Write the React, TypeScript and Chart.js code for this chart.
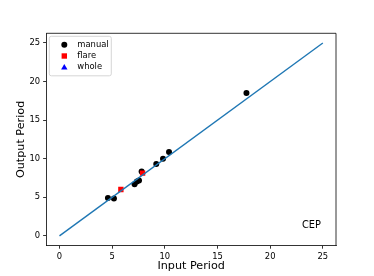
import React, { useEffect, useRef } from "react";
import { Chart, registerables } from "chart.js";

Chart.register(...registerables);

// Data
const manualX = [4.6, 5.17, 7.13, 7.35, 7.55, 7.8, 9.19, 9.83, 10.4, 17.75];
const manualY = [4.89, 4.84, 6.7, 7.04, 7.17, 8.35, 9.3, 9.99, 10.86, 18.5];
const flareX = [5.83, 7.89];
const flareY = [6.0, 8.13];
const wholeX: number[] = [];
const wholeY: number[] = [];
const lineX = [0, 25];
const lineY = [0, 25];
const tickValues = [0, 5, 10, 15, 20, 25];
const xLabel = "Input Period";
const yLabel = "Output Period";
const cornerText = "CEP";

const toPts = (xs: number[], ys: number[]) => xs.map((x, i) => ({ x, y: ys[i] }));

const FONT = "'DejaVu Sans', sans-serif";

const framePlugin = {
  id: "frame",
  afterDatasetsDraw(chart: any) {
    const { ctx, chartArea: a } = chart;
    ctx.save();
    // top and right spines
    ctx.strokeStyle = "#000";
    ctx.lineWidth = 0.8;
    ctx.beginPath();
    ctx.moveTo(a.left, a.top);
    ctx.lineTo(a.right, a.top);
    ctx.lineTo(a.right, a.bottom);
    ctx.stroke();

    // CEP text
    ctx.fillStyle = "#000";
    ctx.font = `9.8px ${FONT}`;
    ctx.textAlign = "right";
    ctx.textBaseline = "middle";
    ctx.fillText(cornerText, a.left + (a.right - a.left) * 0.948, a.bottom - 20.5);

    // legend
    const bx = a.left + 3, by = a.top + 3, bw = 62, bh = 39.5;
    ctx.fillStyle = "rgba(255,255,255,0.8)";
    ctx.strokeStyle = "#cccccc";
    ctx.lineWidth = 0.8;
    ctx.beginPath();
    const r = 2;
    ctx.moveTo(bx + r, by);
    ctx.lineTo(bx + bw - r, by);
    ctx.arcTo(bx + bw, by, bx + bw, by + r, r);
    ctx.lineTo(bx + bw, by + bh - r);
    ctx.arcTo(bx + bw, by + bh, bx + bw - r, by + bh, r);
    ctx.lineTo(bx + r, by + bh);
    ctx.arcTo(bx, by + bh, bx, by + bh - r, r);
    ctx.lineTo(bx, by + r);
    ctx.arcTo(bx, by, bx + r, by, r);
    ctx.closePath();
    ctx.fill();
    ctx.stroke();

    const items = chart.data.datasets.filter((d: any) => d.type !== "line");
    const mx = bx + 15;
    items.forEach((d: any, i: number) => {
      const y = by + 8.5 + i * 11.2;
      ctx.fillStyle = d.backgroundColor;
      ctx.beginPath();
      if (d.pointStyle === "circle") {
        ctx.arc(mx, y, 3, 0, Math.PI * 2);
      } else if (d.pointStyle === "rect") {
        ctx.rect(mx - 2.7, y - 2.7, 5.4, 5.4);
      } else {
        ctx.moveTo(mx, y - 3.3);
        ctx.lineTo(mx + 3.2, y + 2.4);
        ctx.lineTo(mx - 3.2, y + 2.4);
        ctx.closePath();
      }
      ctx.fill();
      ctx.fillStyle = "#000";
      ctx.font = `8.4px ${FONT}`;
      ctx.textAlign = "left";
      ctx.textBaseline = "middle";
      ctx.fillText(d.label, bx + 28, y);
    });
    ctx.restore();
  },
};

export default function App() {
  const ref = useRef<HTMLCanvasElement | null>(null);
  useEffect(() => {
    if (!ref.current) return;
    const fixTicks = (scale: any) => {
      scale.ticks = tickValues.map((v) => ({ value: v }));
    };
    const axisCommon = {
      type: "linear" as const,
      min: -1.25,
      max: 26.25,
      afterBuildTicks: fixTicks,
      grid: {
        drawOnChartArea: false,
        drawTicks: true,
        tickLength: 3.2,
        color: "#000",
        lineWidth: 0.8,
      },
      border: { display: true, color: "#000", width: 0.8 },
      ticks: {
        color: "#000",
        font: { family: FONT, size: 8.4 },
        padding: 3,
        maxRotation: 0,
        autoSkip: false,
      },
    };
    const chart = new Chart(ref.current, {
      type: "scatter",
      data: {
        datasets: [
          {
            type: "line",
            label: "y=x",
            data: toPts(lineX, lineY),
            borderColor: "#1f77b4",
            borderWidth: 1.4,
            pointRadius: 0,
            fill: false,
            order: 0,
          } as any,
          {
            label: "manual",
            data: toPts(manualX, manualY),
            backgroundColor: "#000000",
            borderWidth: 0,
            pointStyle: "circle",
            pointRadius: 3,
            order: 3,
          },
          {
            label: "flare",
            data: toPts(flareX, flareY),
            backgroundColor: "#ff0000",
            borderWidth: 0,
            pointStyle: "rect",
            pointRadius: 3.8,
            order: 2,
          },
          {
            label: "whole",
            data: toPts(wholeX, wholeY),
            backgroundColor: "#0000ff",
            borderWidth: 0,
            pointStyle: "triangle",
            pointRadius: 3.5,
            order: 1,
          },
        ],
      },
      options: {
        animation: false,
        responsive: false,
        maintainAspectRatio: false,
        layout: { padding: { left: 0, top: 33.3, right: 38, bottom: 0 } },
        plugins: { legend: { display: false }, tooltip: { enabled: false } },
        scales: {
          x: {
            ...axisCommon,
            position: "bottom",
            afterFit: (s: any) => {
              s.height = 276 - 245.5;
            },
            title: {
              display: true,
              text: xLabel,
              color: "#000",
              font: { family: FONT, size: 11.2 },
              padding: { top: 0, bottom: 3.3 },
            },
          },
          y: {
            ...axisCommon,
            position: "left",
            afterFit: (s: any) => {
              s.width = 46.3;
            },
            title: {
              display: true,
              text: yLabel,
              color: "#000",
              font: { family: FONT, size: 11.2 },
              padding: { top: 14.6, bottom: 0 },
            },
          },
        },
      } as any,
      plugins: [framePlugin],
    });
    return () => chart.destroy();
  }, []);
  return (
    <div style={{ position: "fixed", left: 0, top: 0, width: 374, height: 276, background: "#fff" }}>
      <canvas ref={ref} width={374} height={276} style={{ display: "block" }} />
    </div>
  );
}
